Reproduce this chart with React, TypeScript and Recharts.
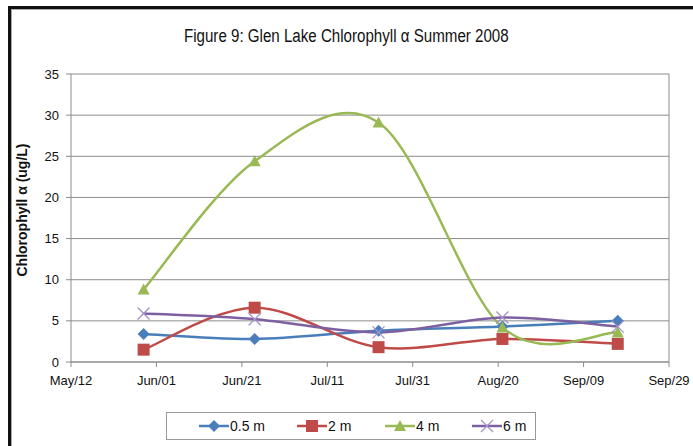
import { CartesianGrid, Line, LineChart, ReferenceLine, XAxis, YAxis } from "recharts"

const sampleDates = ["2008-05-29", "2008-06-24", "2008-07-23", "2008-08-21", "2008-09-17"]
const depth05 = [3.4, 2.8, 3.8, 4.3, 5.0]
const depth2 = [1.5, 6.6, 1.8, 2.8, 2.2]
const depth4 = [8.8, 24.4, 29.1, 4.2, 3.6]
const depth6 = [5.9, 5.2, 3.6, 5.4, 4.3]

const xTickDates = ["2008-05-12", "2008-06-01", "2008-06-21", "2008-07-11", "2008-07-31", "2008-08-20", "2008-09-09", "2008-09-29"]
const xTickLabels = ["May/12", "Jun/01", "Jun/21", "Jul/11", "Jul/31", "Aug/20", "Sep/09", "Sep/29"]
const yTicks = [0, 5, 10, 15, 20, 25, 30, 35]

const toTime = (s: string) => Date.parse(s + "T00:00:00Z")
const xTicks = xTickDates.map(toTime)

const data = sampleDates.map((d, i) => ({
  date: toTime(d),
  "0.5 m": depth05[i],
  "2 m": depth2[i],
  "4 m": depth4[i],
  "6 m": depth6[i],
}))

const FONT = "'Liberation Sans', Arial, sans-serif"
const GRID = "#8c8c8c"

// excel-ish smoothed line (catmull-rom as bezier)
const excelSmooth = (context: any) => {
  let pts: number[][] = []
  return {
    areaStart() {},
    areaEnd() {},
    lineStart() {
      pts = []
    },
    point(x: number, y: number) {
      pts.push([+x, +y])
    },
    lineEnd() {
      const n = pts.length
      if (!n) return
      context.moveTo(pts[0][0], pts[0][1])
      for (let i = 0; i < n - 1; i++) {
        const p0 = pts[i - 1] || pts[i]
        const p1 = pts[i]
        const p2 = pts[i + 1]
        const p3 = pts[i + 2] || p2
        context.bezierCurveTo(
          p1[0] + (p2[0] - p0[0]) / 6,
          p1[1] + (p2[1] - p0[1]) / 6,
          p2[0] - (p3[0] - p1[0]) / 6,
          p2[1] - (p3[1] - p1[1]) / 6,
          p2[0],
          p2[1]
        )
      }
    },
  }
}

const Diamond = ({ cx, cy, fill }: any) => (
  <polygon points={`${cx},${cy - 6} ${cx + 6},${cy} ${cx},${cy + 6} ${cx - 6},${cy}`} fill={fill} />
)
const Square = ({ cx, cy, fill }: any) => <rect x={cx - 6} y={cy - 6} width={12} height={12} fill={fill} />
const Triangle = ({ cx, cy, fill }: any) => (
  <polygon points={`${cx},${cy - 6} ${cx + 6},${cy + 5} ${cx - 6},${cy + 5}`} fill={fill} />
)
const Cross = ({ cx, cy }: any) => (
  <g stroke="#a593c8" strokeWidth={1.3}>
    <line x1={cx - 6} y1={cy - 6} x2={cx + 6} y2={cy + 6} />
    <line x1={cx - 6} y1={cy + 6} x2={cx + 6} y2={cy - 6} />
  </g>
)

const series = [
  { key: "0.5 m", color: "#4a7ebb", Marker: Diamond },
  { key: "2 m", color: "#be4b48", Marker: Square },
  { key: "4 m", color: "#98b954", Marker: Triangle },
  { key: "6 m", color: "#7d60a0", Marker: Cross },
]

const fmtTick = (v: number) => {
  const i = xTicks.indexOf(v)
  return i >= 0 ? xTickLabels[i] : ""
}

export default function App() {
  return (
    <div style={{ position: "absolute", left: 0, top: 0, width: 693, height: 446, background: "#fff", fontFamily: FONT, overflow: "hidden" }}>
      <div style={{ position: "absolute", left: 8, top: 6, width: 700, height: 460, borderLeft: "3px solid #111", borderTop: "3px solid #111" }}>
        <div style={{ position: "absolute", left: 0, top: 0, right: 0, bottom: 0, borderLeft: "1px solid #aaa", borderTop: "1px solid #aaa" }} />
      </div>
      <div style={{ position: "absolute", left: 0, width: 693, top: 26, textAlign: "center", color: "#111" }}>
        <span style={{ display: "inline-block", fontSize: 18, transform: "scaleX(0.84)" }}>
          Figure 9: Glen Lake Chlorophyll α Summer 2008
        </span>
      </div>
      <div style={{ position: "absolute", left: 0, top: 0 }}>
        <LineChart width={693} height={446} data={data} margin={{ top: 74, right: 24, left: 0, bottom: 0 }}>
          <CartesianGrid vertical={false} stroke={GRID} />
          <XAxis
            dataKey="date"
            type="number"
            scale="time"
            domain={[xTicks[0], xTicks[xTicks.length - 1]]}
            ticks={xTicks}
            tickFormatter={fmtTick}
            height={84}
            tickSize={5}
            tickMargin={9}
            stroke={GRID}
            tick={{ fill: "#111", fontSize: 13 }}
          />
          <YAxis
            domain={[0, 35]}
            ticks={yTicks}
            width={71}
            tickSize={5}
            tickMargin={7}
            stroke={GRID}
            tick={{ fill: "#111", fontSize: 13 }}
            label={{ value: "Chlorophyll α (ug/L)", angle: -90, position: "center", dx: -13, dy: -8, style: { fontWeight: "bold", fontSize: 14, fill: "#111" } }}
          />
          <ReferenceLine x={xTicks[xTicks.length - 1]} stroke={GRID} />
          {series.map(({ key, color, Marker }) => (
            <Line
              key={key}
              dataKey={key}
              type={excelSmooth as any}
              stroke={color}
              strokeWidth={2.5}
              dot={(p: any) => <Marker key={p.index} cx={p.cx} cy={p.cy} fill={color} />}
              activeDot={false}
              isAnimationActive={false}
            />
          ))}
        </LineChart>
      </div>
      <div style={{ position: "absolute", left: 166, top: 412, width: 370, height: 28, border: "1px solid #999", boxSizing: "border-box" }}>
        {series.map(({ key, color, Marker }, i) => (
          <div key={key} style={{ position: "absolute", left: [32, 130, 218, 305][i], top: 3, display: "flex", alignItems: "center", fontSize: 14, color: "#111" }}>
            <svg width={30} height={20}>
              <line x1={0} y1={10} x2={30} y2={10} stroke={color} strokeWidth={2.5} />
              <Marker cx={15} cy={10} fill={color} />
            </svg>
            <span style={{ marginLeft: 1 }}>{key}</span>
          </div>
        ))}
      </div>
    </div>
  )
}
